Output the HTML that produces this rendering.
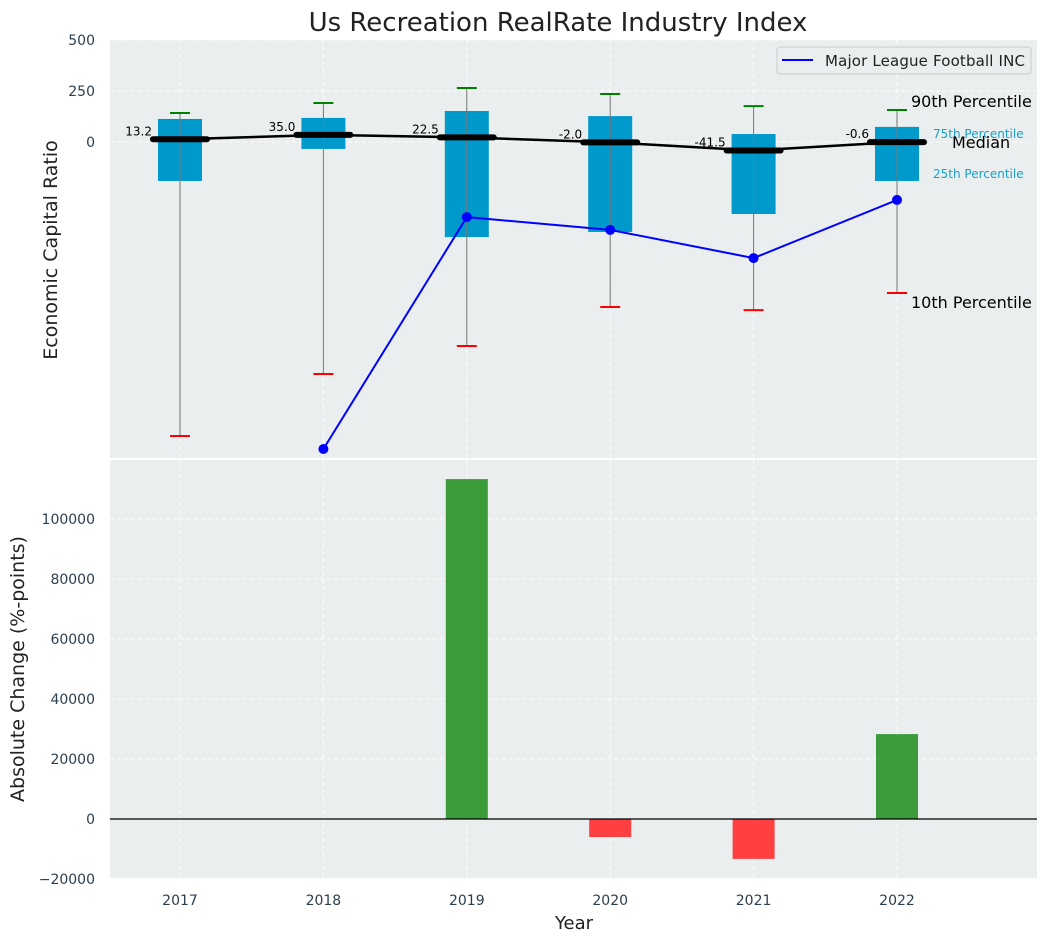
<!DOCTYPE html>
<html><head><meta charset="utf-8"><style>
body{margin:0;background:#fff;font-family:"Liberation Sans","DejaVu Sans",sans-serif}
svg text{font-family:"DejaVu Sans","Liberation Sans",sans-serif}
</style></head><body>
<svg id="chart" width="1048" height="942" xmlns="http://www.w3.org/2000/svg"></svg>
<script>
const years=[2017,2018,2019,2020,2021,2022];
const p90=[142,191,265,235,176,157];
const p75=[113,118,152,127,39,74];
const medians=[13.2,35.0,22.5,-2.0,-41.5,-0.6];
const p25=[-191,-34,-466,-441,-353,-191];
const p10=[-1441,-1137,-1000,-809,-824,-740];
const company=[null,-1505,-368,-431,-569,-284];
const changes=[null,null,113300,-6000,-13300,28300];
const topTicks=[0,250,500];
const botTicks=[-20000,0,20000,40000,60000,80000,100000];

const NS="http://www.w3.org/2000/svg";
const svg=document.getElementById('chart');
function mk(tag,attrs,parent){const e=document.createElementNS(NS,tag);for(const k in attrs)e.setAttribute(k,attrs[k]);(parent||svg).appendChild(e);return e;}
const L=110,R=1037;
const xs=i=>180+i*143.4;
const yT=v=>142-v*0.204;
const yB=v=>819-v*0.003;

let e;
e=mk('text',{x:558,y:31,'font-size':26,'text-anchor':'middle',fill:'#222'});e.textContent='Us Recreation RealRate Industry Index';



// top axes
e=mk('rect',{x:L,y:40,width:R-L,height:418,fill:'#eaeeee'});


topTicks.forEach(t=>{
 mk('line',{x1:L,x2:R,y1:yT(t),y2:yT(t),stroke:'#fff','stroke-dasharray':'4,3','stroke-width':1});
 e=mk('text',{x:95,y:yT(t)+5,'font-size':14,'text-anchor':'end',fill:'#2c3e50'});e.textContent=t;
 
 
});
years.forEach((y,i)=>{mk('line',{x1:xs(i),x2:xs(i),y1:40,y2:458,stroke:'#fff','stroke-dasharray':'4,3'});});
e=mk('text',{x:57,y:250,'font-size':19,'text-anchor':'middle',fill:'#222',transform:'rotate(-90 57 250)'});e.textContent='Economic Capital Ratio';



years.forEach((y,i)=>{
 const x=xs(i);
 e=mk('rect',{x:x-22,y:yT(p75[i]),width:44,height:yT(p25[i])-yT(p75[i]),fill:'#0099cc'});
 
 
 e=mk('line',{x1:x,x2:x,y1:yT(p10[i]),y2:yT(p90[i]),stroke:'#777','stroke-width':1});
 
 
 e=mk('line',{x1:x-10,x2:x+10,y1:yT(p90[i]),y2:yT(p90[i]),stroke:'green','stroke-width':2});
 
 
 e=mk('line',{x1:x-10,x2:x+10,y1:yT(p10[i]),y2:yT(p10[i]),stroke:'red','stroke-width':2});
 
 
});
e=mk('polyline',{points:medians.map((m,i)=>xs(i)+','+yT(m)).join(' '),fill:'none',stroke:'#000','stroke-width':2.5});


years.forEach((y,i)=>{
 const x=xs(i),yy=yT(medians[i]);
 e=mk('line',{x1:x-27,x2:x+27,y1:yy,y2:yy,stroke:'#000','stroke-width':6,'stroke-linecap':'round'});
 
 
 e=mk('text',{x:x-28,y:yy-4,'font-size':12,'text-anchor':'end',fill:'#000'});e.textContent=medians[i].toFixed(1);
 
 
});
const pts=[];company.forEach((v,i)=>{if(v!==null)pts.push([xs(i),yT(v)]);});
e=mk('polyline',{points:pts.map(p=>p.join(',')).join(' '),fill:'none',stroke:'blue','stroke-width':2});


pts.forEach(p=>{e=mk('circle',{cx:p[0],cy:p[1],r:5,fill:'blue'});
 
 });

[['90th Percentile',911,107,16,'#000'],['75th Percentile',933,138,12,'#1aa0c8'],['Median',952,148,16,'#000'],['25th Percentile',933,178,12,'#1aa0c8'],['10th Percentile',911,308,16,'#000']].forEach(a=>{
 e=mk('text',{x:a[1],y:a[2],'font-size':a[3],fill:a[4]});e.textContent=a[0];
 
 
});
e=mk('g',{});


mk('rect',{x:777,y:47,width:254,height:27,rx:3,fill:'#eaeeee',stroke:'#ccc'},e);
mk('line',{x1:782,x2:813,y1:60,y2:60,stroke:'blue','stroke-width':2},e);
const lt=mk('text',{x:825,y:66,'font-size':15,fill:'#222',textLength:200},e);lt.textContent='Major League Football INC';

e=mk('rect',{x:L,y:460,width:R-L,height:418,fill:'#eaeeee'});


botTicks.forEach(t=>{
 mk('line',{x1:L,x2:R,y1:yB(t),y2:yB(t),stroke:'#fff','stroke-dasharray':'4,3'});
 e=mk('text',{x:95,y:yB(t)+5,'font-size':14,'text-anchor':'end',fill:'#2c3e50'});e.textContent=t<0?'\u2212'+Math.abs(t):t;
 
 
});
years.forEach((y,i)=>{
 mk('line',{x1:xs(i),x2:xs(i),y1:460,y2:878,stroke:'#fff','stroke-dasharray':'4,3'});
 e=mk('text',{x:xs(i),y:905,'font-size':14,'text-anchor':'middle',fill:'#2c3e50'});e.textContent=y;
 
 
});
changes.forEach((v,i)=>{
 if(v===null)return;
 const y0=yB(0),y1=yB(v);
 e=mk('rect',{x:xs(i)-21,y:Math.min(y0,y1),width:42,height:Math.abs(y1-y0),fill:v>=0?'#3c9c3c':'#ff4040'});
 
 
});
e=mk('line',{x1:L,x2:R,y1:yB(0),y2:yB(0),stroke:'#000','stroke-width':1.2});


e=mk('text',{x:24,y:669,'font-size':19,'text-anchor':'middle',fill:'#222',transform:'rotate(-90 24 669)'});e.textContent='Absolute Change (%-points)';


e=mk('text',{x:574,y:929,'font-size':18,'text-anchor':'middle',fill:'#222'});e.textContent='Year';


</script>
</body></html>
